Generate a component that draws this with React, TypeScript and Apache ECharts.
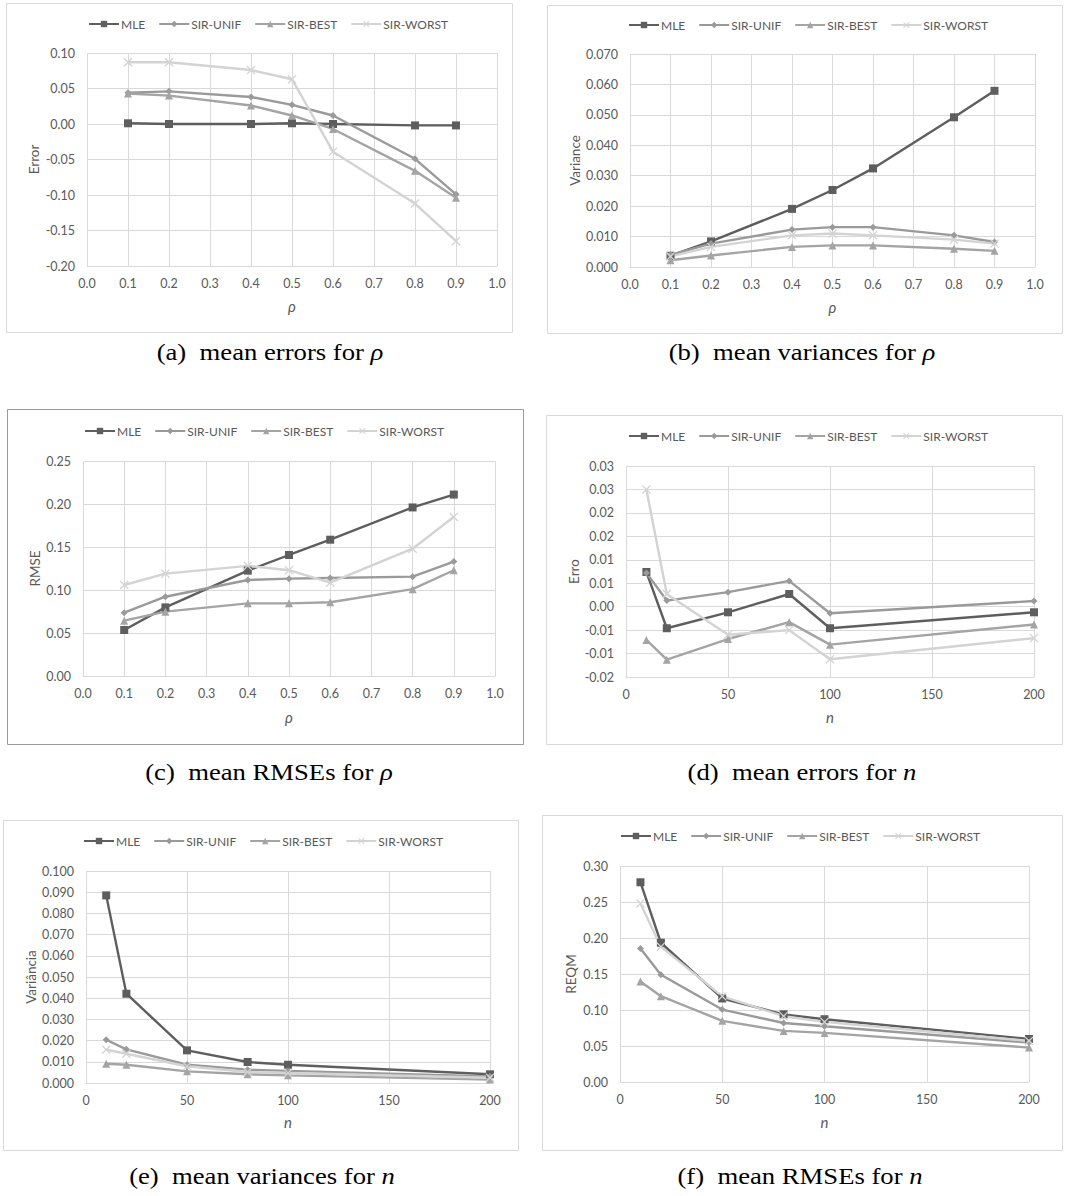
import React, { useEffect, useRef } from "react";
import * as echarts from "echarts";

const SERIES_NAMES = ["MLE", "SIR-UNIF", "SIR-BEST", "SIR-WORST"];
const rhoValues = [0.1, 0.2, 0.4, 0.5, 0.6, 0.8, 0.9];
const nValues = [10, 20, 50, 80, 100, 200];

// (a) mean errors for rho
const errRhoMLE = [0.001, 0.0, 0.0, 0.001, 0.0, -0.002, -0.002];
const errRhoUnif = [0.044, 0.046, 0.038, 0.027, 0.012, -0.049, -0.099];
const errRhoBest = [0.043, 0.040, 0.026, 0.012, -0.007, -0.066, -0.104];
const errRhoWorst = [0.087, 0.087, 0.076, 0.063, -0.039, -0.112, -0.165];

// (b) mean variances for rho
const varRhoMLE = [0.0037, 0.0084, 0.0191, 0.0253, 0.0324, 0.0492, 0.0579];
const varRhoUnif = [0.004, 0.0077, 0.0123, 0.0131, 0.0131, 0.0104, 0.0082];
const varRhoBest = [0.0022, 0.0038, 0.0066, 0.0071, 0.0071, 0.006, 0.0053];
const varRhoWorst = [0.0035, 0.0066, 0.0104, 0.011, 0.0104, 0.009, 0.0077];

// (c) mean RMSEs for rho
const rmseRhoMLE = [0.0535, 0.0798, 0.1225, 0.1407, 0.1585, 0.196, 0.211];
const rmseRhoUnif = [0.0736, 0.0922, 0.1116, 0.1132, 0.114, 0.1155, 0.133];
const rmseRhoBest = [0.0643, 0.0748, 0.0845, 0.0845, 0.0857, 0.101, 0.123];
const rmseRhoWorst = [0.1058, 0.119, 0.128, 0.123, 0.1085, 0.148, 0.185];

// (d) mean errors for n
const errNMLE = [0.0074, -0.0046, -0.0012, 0.0027, -0.0046, -0.0012];
const errNUnif = [0.0072, 0.0013, 0.0031, 0.0055, -0.0014, 0.0012];
const errNBest = [-0.0071, -0.0113, -0.0069, -0.0033, -0.0081, -0.0038];
const errNWorst = [0.025, 0.0027, -0.006, -0.005, -0.0112, -0.0067];

// (e) mean variances for n
const varNMLE = [0.0885, 0.0421, 0.0154, 0.0099, 0.0086, 0.0041];
const varNUnif = [0.0204, 0.0159, 0.0086, 0.0063, 0.0057, 0.0031];
const varNBest = [0.0091, 0.0086, 0.0055, 0.0041, 0.0036, 0.0016];
const varNWorst = [0.0157, 0.0138, 0.0079, 0.0052, 0.0047, 0.0025];

// (f) mean RMSEs for n
const rmseNMLE = [0.2774, 0.1934, 0.116, 0.094, 0.0872, 0.0598];
const rmseNUnif = [0.1855, 0.149, 0.1006, 0.082, 0.0775, 0.0547];
const rmseNBest = [0.1396, 0.1192, 0.0849, 0.071, 0.0682, 0.0478];
const rmseNWorst = [0.248, 0.188, 0.119, 0.0914, 0.0835, 0.057];

const COLORS = ["#5e5e5e", "#9a9a9a", "#a4a4a4", "#d3d3d3"];
const CROSS =
  "path://M0,1 L1,0 L5,4 L9,0 L10,1 L6,5 L10,9 L9,10 L5,6 L1,10 L0,9 L4,5 Z";
const SYMBOLS = ["rect", "diamond", "triangle", CROSS];
const SYMBOL_SIZES = [8, 7, 8, 9];

const FONT = "Lato, 'Open Sans', sans-serif";
const SERIF = "'Liberation Serif', 'DejaVu Serif', serif";
const TEXT_COLOR = "#595959";
const GRID_COLOR = "#d9d9d9";

type Panel = {
  grid: { left: number; top: number; width: number; height: number };
  legend: { left: number; top: number };
  box: { x: number; y: number; w: number; h: number; stroke: string };
  xVals: number[];
  series: number[][];
  xMin: number;
  xMax: number;
  xInterval: number;
  xFmt: (v: number) => string;
  yMin: number;
  yMax: number;
  yInterval: number;
  yFmt: (v: number) => string;
  yName: string;
  yNameGap: number;
  xName: string;
  xNameGap: number;
  caption: { label: string; text: string; sym: string; x: number; y: number };
};

const fix = (d: number) => (v: number) => v.toFixed(d);
const roundFmt = (v: number) => {
  const r = (Math.sign(v) * Math.round(Math.abs(v) * 100 + 1e-6)) / 100;
  return (r === 0 ? 0 : r).toFixed(2);
};
const intFmt = (v: number) => String(Math.round(v));

const panels: Panel[] = [
  {
    grid: { left: 87, top: 53, width: 410, height: 213 },
    legend: { left: 88, top: 18 },
    box: { x: 6.5, y: 3.5, w: 506, h: 329, stroke: GRID_COLOR },
    xVals: rhoValues,
    series: [errRhoMLE, errRhoUnif, errRhoBest, errRhoWorst],
    xMin: 0, xMax: 1, xInterval: 0.1, xFmt: fix(1),
    yMin: -0.2, yMax: 0.1, yInterval: 0.05, yFmt: fix(2),
    yName: "Error", yNameGap: 46, xName: "ρ", xNameGap: 32,
    caption: { label: "(a)", text: "mean errors for", sym: "ρ", x: 270, y: 352 },
  },
  {
    grid: { left: 630, top: 54, width: 405, height: 213 },
    legend: { left: 628, top: 19 },
    box: { x: 547.5, y: 5.5, w: 515, h: 328, stroke: GRID_COLOR },
    xVals: rhoValues,
    series: [varRhoMLE, varRhoUnif, varRhoBest, varRhoWorst],
    xMin: 0, xMax: 1, xInterval: 0.1, xFmt: fix(1),
    yMin: 0, yMax: 0.07, yInterval: 0.01, yFmt: fix(3),
    yName: "Variance", yNameGap: 48, xName: "ρ", xNameGap: 32,
    caption: { label: "(b)", text: "mean variances for", sym: "ρ", x: 802, y: 352 },
  },
  {
    grid: { left: 83, top: 461, width: 412, height: 215 },
    legend: { left: 84, top: 425 },
    box: { x: 7.5, y: 409.5, w: 516, h: 335, stroke: "#9a9a9a" },
    xVals: rhoValues,
    series: [rmseRhoMLE, rmseRhoUnif, rmseRhoBest, rmseRhoWorst],
    xMin: 0, xMax: 1, xInterval: 0.1, xFmt: fix(1),
    yMin: 0, yMax: 0.25, yInterval: 0.05, yFmt: fix(2),
    yName: "RMSE", yNameGap: 41, xName: "ρ", xNameGap: 33,
    caption: { label: "(c)", text: "mean RMSEs for", sym: "ρ", x: 269, y: 772 },
  },
  {
    grid: { left: 626, top: 466, width: 408, height: 211 },
    legend: { left: 628, top: 430 },
    box: { x: 546.5, y: 415.5, w: 516, h: 329, stroke: GRID_COLOR },
    xVals: nValues,
    series: [errNMLE, errNUnif, errNBest, errNWorst],
    xMin: 0, xMax: 200, xInterval: 50, xFmt: intFmt,
    yMin: -0.015, yMax: 0.03, yInterval: 0.005, yFmt: roundFmt,
    yName: "Erro", yNameGap: 44, xName: "n", xNameGap: 32,
    caption: { label: "(d)", text: "mean errors for", sym: "n", x: 802, y: 772 },
  },
  {
    grid: { left: 86, top: 871, width: 404, height: 212 },
    legend: { left: 83, top: 835 },
    box: { x: 3.5, y: 820.5, w: 515, h: 330, stroke: GRID_COLOR },
    xVals: nValues,
    series: [varNMLE, varNUnif, varNBest, varNWorst],
    xMin: 0, xMax: 200, xInterval: 50, xFmt: intFmt,
    yMin: 0, yMax: 0.1, yInterval: 0.01, yFmt: fix(3),
    yName: "Variância", yNameGap: 47, xName: "n", xNameGap: 31,
    caption: { label: "(e)", text: "mean variances for", sym: "n", x: 262, y: 1176 },
  },
  {
    grid: { left: 620, top: 866, width: 409, height: 216 },
    legend: { left: 620, top: 830 },
    box: { x: 542.5, y: 815.5, w: 520, h: 335, stroke: GRID_COLOR },
    xVals: nValues,
    series: [rmseNMLE, rmseNUnif, rmseNBest, rmseNWorst],
    xMin: 0, xMax: 200, xInterval: 50, xFmt: intFmt,
    yMin: 0, yMax: 0.3, yInterval: 0.05, yFmt: fix(2),
    yName: "REQM", yNameGap: 42, xName: "n", xNameGap: 32,
    caption: { label: "(f)", text: "mean RMSEs for", sym: "n", x: 800, y: 1176 },
  },
];

function buildOption() {
  const grid: any[] = [];
  const xAxis: any[] = [];
  const yAxis: any[] = [];
  const legend: any[] = [];
  const series: any[] = [];
  const graphic: any[] = [];

  panels.forEach((p, i) => {
    grid.push({ ...p.grid, containLabel: false });
    xAxis.push({
      type: "value",
      gridIndex: i,
      min: p.xMin,
      max: p.xMax,
      interval: p.xInterval,
      name: p.xName,
      nameLocation: "middle",
      nameGap: p.xNameGap,
      nameTextStyle: { fontFamily: FONT, fontSize: 15, color: TEXT_COLOR, fontStyle: "italic" },
      axisLine: { show: true, onZero: false, lineStyle: { color: GRID_COLOR, width: 1 } },
      axisTick: { show: false },
      axisLabel: { formatter: p.xFmt, fontFamily: FONT, fontSize: 12.5, color: TEXT_COLOR, margin: 11 },
      splitLine: { show: true, lineStyle: { color: GRID_COLOR, width: 1 } },
    });
    yAxis.push({
      type: "value",
      gridIndex: i,
      min: p.yMin,
      max: p.yMax,
      interval: p.yInterval,
      name: p.yName,
      nameLocation: "middle",
      nameGap: p.yNameGap,
      nameTextStyle: { fontFamily: FONT, fontSize: 13.5, color: TEXT_COLOR },
      axisLine: { show: false },
      axisTick: { show: false },
      axisLabel: { formatter: p.yFmt, fontFamily: FONT, fontSize: 12.5, color: TEXT_COLOR, margin: 12 },
      splitLine: { show: true, lineStyle: { color: GRID_COLOR, width: 1 } },
    });
    legend.push({
      left: p.legend.left,
      top: p.legend.top,
      padding: 0,
      orient: "horizontal",
      itemWidth: 30,
      itemHeight: 8,
      itemGap: 13,
      selectedMode: false,
      textStyle: { fontFamily: FONT, fontSize: 12, color: TEXT_COLOR, padding: [0, 0, 0, -3] },
      data: SERIES_NAMES,
    });
    p.series.forEach((vals, k) => {
      series.push({
        type: "line",
        name: SERIES_NAMES[k],
        xAxisIndex: i,
        yAxisIndex: i,
        data: p.xVals.map((x, j) => [x, vals[j]]),
        symbol: SYMBOLS[k],
        symbolSize: SYMBOL_SIZES[k],
        showSymbol: true,
        lineStyle: { color: COLORS[k], width: 2.4 },
        itemStyle: { color: COLORS[k] },
        emphasis: { disabled: true },
      });
    });
    graphic.push({
      type: "rect",
      shape: { x: p.box.x, y: p.box.y, width: p.box.w, height: p.box.h },
      style: { fill: "none", stroke: p.box.stroke, lineWidth: 1 },
      silent: true,
      z: -10,
    });
    graphic.push({
      type: "text",
      x: p.caption.x,
      y: p.caption.y,
      scaleX: 1.16,
      style: {
        text: `${p.caption.label}  ${p.caption.text} {i|${p.caption.sym}}`,
        fontFamily: SERIF,
        fontSize: 23,
        fill: "#000",
        align: "center",
        verticalAlign: "middle",
        rich: {
          i: {
            fontFamily: SERIF,
            fontSize: 23,
            fontStyle: "italic",
            fill: "#000",
          },
        },
      },
      silent: true,
    });
  });

  return {
    animation: false,
    backgroundColor: "#ffffff",
    grid,
    xAxis,
    yAxis,
    legend,
    series,
    graphic,
  };
}

export default function App() {
  const ref = useRef<HTMLDivElement>(null);
  useEffect(() => {
    if (!ref.current) return;
    const chart = echarts.init(ref.current, undefined, { renderer: "svg" });
    chart.setOption(buildOption() as any);
    return () => chart.dispose();
  }, []);
  return (
    <div
      ref={ref}
      style={{ position: "absolute", left: 0, top: 0, width: 1065, height: 1196 }}
    />
  );
}
